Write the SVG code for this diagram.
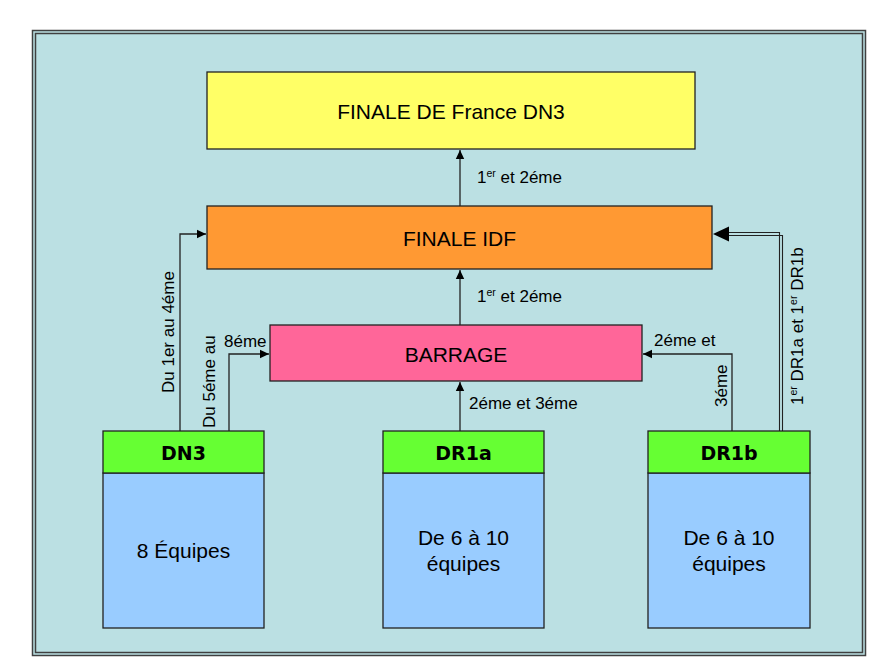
<svg xmlns="http://www.w3.org/2000/svg" width="878" height="672" viewBox="0 0 878 672">
<style>
.box{stroke:#222;stroke-width:1.3}
.t{font-family:"Liberation Sans",Arial,sans-serif;fill:#000}
.big{font-size:21px}
.lbl{font-size:17px}
.hdr{font-family:"DejaVu Sans",sans-serif;font-weight:bold;font-size:19px;fill:#000}
.ln{fill:none;stroke:#222;stroke-width:1.3}
</style>
<defs>
<marker id="ar" markerWidth="10" markerHeight="10" refX="9" refY="5" orient="auto" markerUnits="userSpaceOnUse">
<path d="M0,0.8 L9,5 L0,9.2 Z" fill="#000"/>
</marker>
<marker id="arb" markerWidth="17" markerHeight="16" refX="16" refY="8" orient="auto" markerUnits="userSpaceOnUse">
<path d="M0,0.5 L16,8 L0,15.5 Z" fill="#000"/>
</marker>
</defs>
<rect id="frame" x="32.5" y="30.5" width="833" height="625" fill="#BBE0E3" stroke="#404040" stroke-width="1.5"/>
<rect x="35.5" y="33.5" width="827" height="619" fill="none" stroke="#404040" stroke-width="1.5"/>

<g id="connectors">
<line class="ln" x1="460" y1="206" x2="460" y2="150" marker-end="url(#ar)"/>
<line class="ln" x1="460" y1="325" x2="460" y2="270" marker-end="url(#ar)"/>
<line class="ln" x1="460" y1="431" x2="460" y2="382" marker-end="url(#ar)"/>
<polyline class="ln" points="180,431 180,234 206,234" marker-end="url(#ar)"/>
<polyline class="ln" points="229,431 229,354 269,354" marker-end="url(#ar)"/>
<polyline class="ln" points="732,431 732,354 643,354" marker-end="url(#ar)"/>
<polyline fill="none" stroke="#222" stroke-width="1.1" points="779.5,431 779.5,232.5 720,232.5"/>
<polyline fill="none" stroke="#222" stroke-width="1.1" points="782.5,431 782.5,235.5 720,235.5"/>
<line x1="722" y1="234" x2="713" y2="234" stroke="none" marker-end="url(#arb)"/>
<text class="t lbl" x="477" y="183">1<tspan font-size="10.5" dy="-6">er</tspan><tspan dy="6"> et 2éme</tspan></text>
<text class="t lbl" x="477" y="302">1<tspan font-size="10.5" dy="-6">er</tspan><tspan dy="6"> et 2éme</tspan></text>
<text class="t lbl" x="469" y="409">2éme et 3éme</text>
<text class="t lbl" transform="translate(174,393) rotate(-90)">Du 1er au 4éme</text>
<text class="t lbl" transform="translate(215,428) rotate(-90)">Du 5éme au</text>
<text class="t lbl" x="224" y="347">8éme</text>
<text class="t lbl" x="654" y="346">2éme et</text>
<text class="t lbl" transform="translate(727,407) rotate(-90)">3éme</text>
<text class="t lbl" transform="translate(803,405) rotate(-90)">1<tspan font-size="10.5" dy="-6">er</tspan><tspan dy="6"> DR1a et 1</tspan><tspan font-size="10.5" dy="-6">er</tspan><tspan dy="6"> DR1b</tspan></text>
</g>

<g id="finale-france">
<rect class="box" x="207" y="72" width="488" height="77" fill="#FFFF66"/>
<text class="t big" x="451" y="119" text-anchor="middle">FINALE DE France DN3</text>
</g>
<g id="finale-idf">
<rect class="box" x="207" y="206" width="505" height="63" fill="#FF9933"/>
<text class="t big" x="459.5" y="245.5" text-anchor="middle">FINALE IDF</text>
</g>
<g id="barrage">
<rect class="box" x="270" y="325" width="372" height="56" fill="#FF6699"/>
<text class="t big" x="456" y="362" text-anchor="middle">BARRAGE</text>
</g>
<g id="dn3">
<rect class="box" x="103" y="473" width="161" height="155" fill="#99CCFF"/>
<rect class="box" x="103" y="431" width="161" height="42" fill="#66FF33"/>
<text class="hdr" x="183.5" y="460" text-anchor="middle">DN3</text>
<text class="t big" x="183.5" y="558" text-anchor="middle">8 Équipes</text>
</g>
<g id="dr1a">
<rect class="box" x="383" y="473" width="161" height="155" fill="#99CCFF"/>
<rect class="box" x="383" y="431" width="161" height="42" fill="#66FF33"/>
<text class="hdr" x="463.5" y="460" text-anchor="middle">DR1a</text>
<text class="t big" x="463.5" y="545" text-anchor="middle">De 6 à 10</text>
<text class="t big" x="463.5" y="571" text-anchor="middle">équipes</text>
</g>
<g id="dr1b">
<rect class="box" x="648" y="473" width="162" height="155" fill="#99CCFF"/>
<rect class="box" x="648" y="431" width="162" height="42" fill="#66FF33"/>
<text class="hdr" x="729" y="460" text-anchor="middle">DR1b</text>
<text class="t big" x="729" y="545" text-anchor="middle">De 6 à 10</text>
<text class="t big" x="729" y="571" text-anchor="middle">équipes</text>
</g>
</svg>
